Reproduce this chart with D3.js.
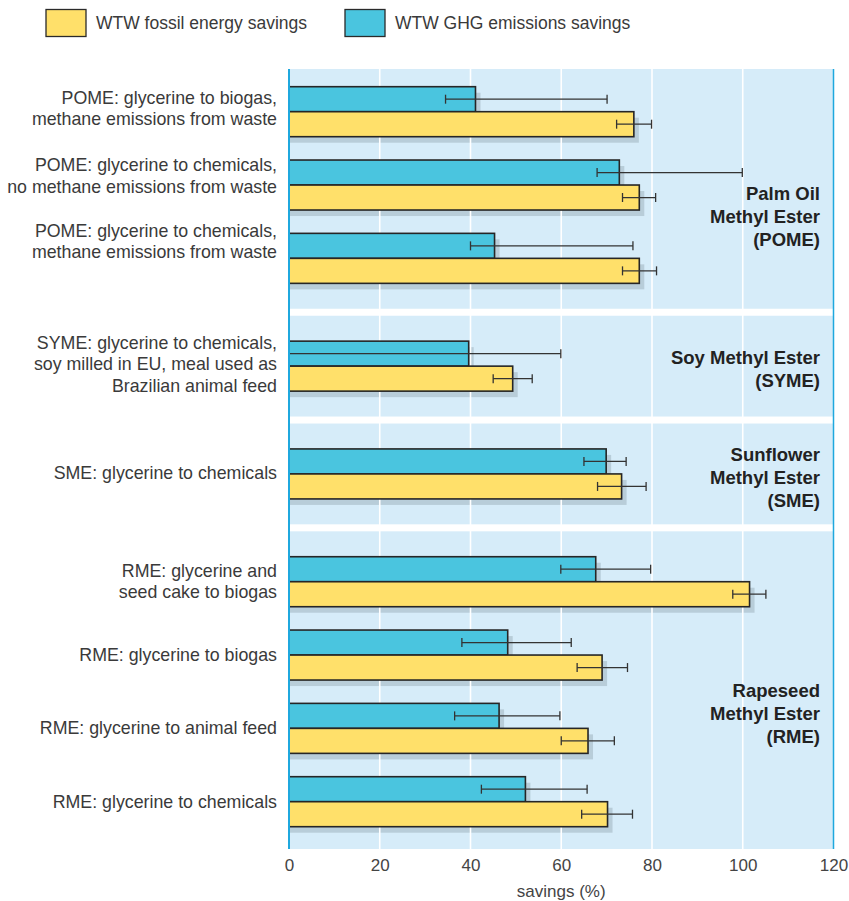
<!DOCTYPE html>
<html><head><meta charset="utf-8">
<style>
  body { margin: 0; background: #fff; }
  svg text { font-family: "Liberation Sans", Arial, sans-serif; }
</style>
</head><body>
<svg width="849" height="901"></svg>
<script src="https://cdn.jsdelivr.net/npm/d3@7"></script>
<script>

var categories = [
  "POME: glycerine to biogas,\nmethane emissions from waste",
  "POME: glycerine to chemicals,\nno methane emissions from waste",
  "POME: glycerine to chemicals,\nmethane emissions from waste",
  "SYME: glycerine to chemicals,\nsoy milled in EU, meal used as\nBrazilian animal feed",
  "SME: glycerine to chemicals",
  "RME: glycerine and\nseed cake to biogas",
  "RME: glycerine to biogas",
  "RME: glycerine to animal feed",
  "RME: glycerine to chemicals"
];
var groups = [
  "Palm Oil\nMethyl Ester\n(POME)",
  "Soy Methyl Ester\n(SYME)",
  "Sunflower\nMethyl Ester\n(SME)",
  "Rapeseed\nMethyl Ester\n(RME)"
];
var groupOf = [0, 0, 0, 1, 2, 3, 3, 3, 3];

var ghg      = [41.1, 72.8, 45.3, 39.6, 69.9, 67.6, 48.2, 46.3, 52.1];
var ghgLow   = [34.5, 67.9, 40.0,  0.0, 65.0, 59.9, 38.1, 36.5, 42.4];
var ghgHigh  = [70.1, 99.9, 75.8, 59.9, 74.3, 79.7, 62.2, 59.7, 65.7];
var fossil     = [76.0, 77.2, 77.2, 49.3, 73.3, 101.5, 69.0, 65.9, 70.2];
var fossilLow  = [72.2, 73.5, 73.5, 45.0, 68.0,  97.8, 63.5, 60.0, 64.5];
var fossilHigh = [79.9, 80.8, 81.0, 53.6, 78.7, 105.1, 74.6, 71.7, 75.7];

var xTicks = [0, 20, 40, 60, 80, 100, 120];
var legendLabels = ["WTW fossil energy savings", "WTW GHG emissions savings"];

// layout
var YELLOW = "#ffe06a", CYAN = "#4ac5df", BG = "#d6ecf9", SHADOW = "#b8cdd9", AXIS = "#1fa8de";
var plotLeft = 289, plotRight = 833.5, plotTop = 69, plotBottom = 849;
var barH = 25, groupGap = 0.47;
var labelNudge = [-3, -9, -17, -2, -1, 0, 0, 0, 0];      // row label drift in original
var groupLabelShift = [0.44, 0.05, 0.05, 0.31];           // in row units

var svg = d3.select("svg");

var x = d3.scaleLinear().domain([0, 120]).range([plotLeft, plotRight]);

// slot index for each row, with extra space between groups
var slot = categories.map(function(d, i) { return i + groupOf[i] * groupGap; });
var y = d3.scaleLinear()
    .domain([0, d3.max(slot)])
    .range([111.7, 801.7]);

var rows = categories.map(function(c, i) {
  return {
    label: c, cy: y(slot[i]),
    ghg: ghg[i], ghgLow: ghgLow[i], ghgHigh: ghgHigh[i],
    fossil: fossil[i], fossilLow: fossilLow[i], fossilHigh: fossilHigh[i],
    nudge: labelNudge[i]
  };
});

// plot background
svg.append("rect")
    .attr("x", plotLeft).attr("y", plotTop)
    .attr("width", plotRight - plotLeft).attr("height", plotBottom - plotTop)
    .attr("fill", BG);

// shadows
var shadows = svg.append("g").attr("fill", SHADOW);
rows.forEach(function(d) {
  shadows.append("rect").attr("x", x(0)).attr("y", d.cy - barH + 6)
      .attr("width", x(d.ghg) - x(0) + 5).attr("height", barH);
  shadows.append("rect").attr("x", x(0)).attr("y", d.cy + 6)
      .attr("width", x(d.fossil) - x(0) + 5).attr("height", barH);
});

// grid
svg.append("g").selectAll("line")
    .data(xTicks.slice(1, -1))
  .enter().append("line")
    .attr("x1", function(d) { return x(d); }).attr("x2", function(d) { return x(d); })
    .attr("y1", plotTop).attr("y2", plotBottom)
    .attr("stroke", "#fff").attr("stroke-width", 1.6);

// white separators between groups
var seps = [];
for (var i = 1; i < rows.length; i++) {
  if (groupOf[i] !== groupOf[i - 1]) seps.push((rows[i].cy + rows[i - 1].cy) / 2);
}
svg.append("g").selectAll("rect")
    .data(seps)
  .enter().append("rect")
    .attr("x", plotLeft).attr("width", plotRight - plotLeft)
    .attr("y", function(d) { return d - 3.5; }).attr("height", 7)
    .attr("fill", "#fff");

// bars
var bars = svg.append("g").attr("stroke", "#262626").attr("stroke-width", 1.6);
rows.forEach(function(d) {
  bars.append("rect").attr("x", x(0)).attr("y", d.cy - barH)
      .attr("width", x(d.ghg) - x(0)).attr("height", barH).attr("fill", CYAN);
  bars.append("rect").attr("x", x(0)).attr("y", d.cy)
      .attr("width", x(d.fossil) - x(0)).attr("height", barH).attr("fill", YELLOW);
});

// error bars
var err = svg.append("g").attr("stroke", "#333").attr("stroke-width", 1.3).attr("fill", "none");
function errorBar(lo, hi, yc) {
  err.append("line").attr("x1", x(lo)).attr("x2", x(hi)).attr("y1", yc).attr("y2", yc);
  err.append("line").attr("x1", x(lo)).attr("x2", x(lo)).attr("y1", yc - 4.5).attr("y2", yc + 4.5);
  err.append("line").attr("x1", x(hi)).attr("x2", x(hi)).attr("y1", yc - 4.5).attr("y2", yc + 4.5);
}
rows.forEach(function(d) {
  errorBar(d.ghgLow, d.ghgHigh, d.cy - barH / 2);
  errorBar(d.fossilLow, d.fossilHigh, d.cy + barH / 2);
});

// plot border lines
svg.append("line").attr("x1", plotLeft).attr("x2", plotLeft)
    .attr("y1", plotTop).attr("y2", plotBottom)
    .attr("stroke", AXIS).attr("stroke-width", 2);
svg.append("line").attr("x1", plotRight).attr("x2", plotRight)
    .attr("y1", plotTop).attr("y2", plotBottom)
    .attr("stroke", AXIS).attr("stroke-width", 1.5);

// multi-line text helper
function multiline(sel, text, lineH) {
  var lines = text.split("\n");
  lines.forEach(function(l, k) {
    sel.append("tspan").attr("x", sel.attr("x"))
        .attr("dy", k === 0 ? (-(lines.length - 1) / 2 * lineH) + 6 : lineH)
        .text(l);
  });
}

// row labels
rows.forEach(function(d) {
  var t = svg.append("text")
      .attr("x", 277).attr("y", d.cy + d.nudge)
      .attr("text-anchor", "end")
      .attr("font-size", 17.8).attr("fill", "#3a3a3a");
  multiline(t, d.label, 21.5);
});

// group labels
groups.forEach(function(g, gi) {
  var idx = d3.range(rows.length).filter(function(i) { return groupOf[i] === gi; });
  var mid = (slot[idx[0]] + slot[idx[idx.length - 1]]) / 2 + groupLabelShift[gi];
  var t = svg.append("text")
      .attr("x", 820).attr("y", y(mid))
      .attr("text-anchor", "end")
      .attr("font-size", 18.5).attr("font-weight", "bold").attr("fill", "#222");
  multiline(t, g, 23);
});

// x axis
var xAxis = svg.append("g")
    .attr("transform", "translate(0," + plotBottom + ")")
    .call(d3.axisBottom(x).tickValues(xTicks).tickSize(0).tickPadding(10));
xAxis.select(".domain").remove();
xAxis.selectAll("text")
    .attr("font-family", "Liberation Sans, Arial, sans-serif")
    .attr("font-size", 17).attr("fill", "#444");

svg.append("text")
    .attr("x", x(60)).attr("y", 897)
    .attr("text-anchor", "middle")
    .attr("font-size", 17).attr("fill", "#444")
    .text("savings (%)");

// legend
var legendColors = [YELLOW, CYAN];
var legendX = [46, 345];
legendLabels.forEach(function(l, i) {
  svg.append("rect")
      .attr("x", legendX[i]).attr("y", 9.5)
      .attr("width", 40).attr("height", 27)
      .attr("fill", legendColors[i]).attr("stroke", "#2a2a2a").attr("stroke-width", 1.3);
  svg.append("text")
      .attr("x", legendX[i] + 50).attr("y", 29)
      .attr("font-size", 17.5).attr("fill", "#3a3a3a")
      .text(l);
});

</script>
</body></html>
